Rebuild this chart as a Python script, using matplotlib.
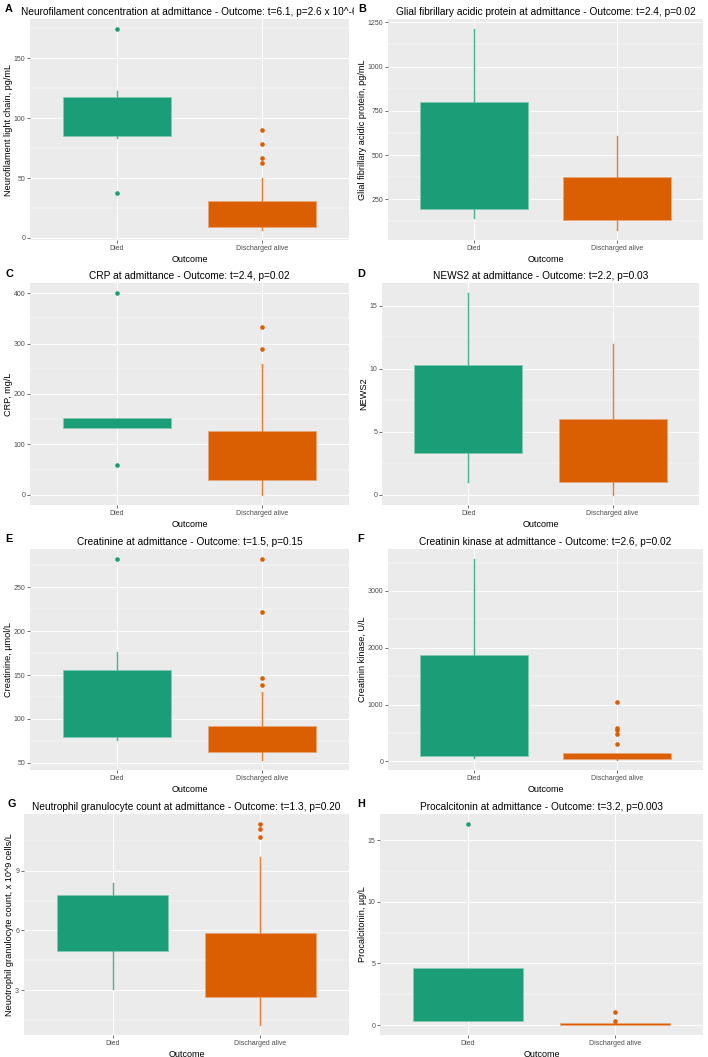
import matplotlib
matplotlib.use("Agg")
import matplotlib.pyplot as plt
import numpy as np
from matplotlib.colors import to_rgb
from matplotlib.transforms import Bbox

plt.rcParams["font.family"] = ["Liberation Sans", "DejaVu Sans"]

W, H = 708, 1057

groups = ["Died", "Discharged alive"]
fills = ["#1B9E77", "#D95F02"]

# per group: [lower whisker, Q1, Q3, upper whisker]
nfl_box = [[83.5, 85.4, 117.7, 122.7], [6.7, 8.8, 30.5, 50.0]]
nfl_out = [[174.5, 37.5], [90.0, 78.3, 66.7, 62.8]]
gfap_box = [[146, 194, 798, 1212], [77, 133, 376, 608]]
gfap_out = [[], []]
crp_box = [[133, 133, 152, 152], [0, 30, 127, 259]]
crp_out = [[400, 59], [333, 289]]
news_box = [[1.0, 3.3, 10.3, 16.0], [0.0, 1.0, 6.0, 12.0]]
news_out = [[], []]
crea_box = [[75.6, 79.2, 155.3, 175.8], [53.4, 62.5, 91.7, 130.3]]
crea_out = [[282], [282, 221.5, 146.2, 138.3]]
ck_box = [[59, 100, 1867, 3563], [23, 35, 147, 147]]
ck_out = [[], [1047, 594, 547, 488, 300]]
neut_box = [[3.08, 4.98, 7.78, 8.37], [1.25, 2.65, 5.88, 9.7]]
neut_out = [[], [11.35, 11.1, 10.72]]
pct_box = [[0.35, 0.35, 4.6, 4.6], [0.02, 0.02, 0.19, 0.4]]
pct_out = [[16.3], [1.08, 0.38]]

panels = [
    ("A", "Neurofilament concentration at admittance - Outcome: t=6.1, p=2.6 x 10^-6",
     "Neurofilament light chain, pg/mL", nfl_box, nfl_out, [0, 50, 100, 150],
     (30, 19, 349, 240), (5, 9)),
    ("B", "Glial fibrillary acidic protein at admittance - Outcome: t=2.4, p=0.02",
     "Glial fibrillary acidic protein, pg/mL", gfap_box, gfap_out, [250, 500, 750, 1000, 1250],
     (388, 19, 703, 240), (358, 9)),
    ("C", "CRP at admittance - Outcome: t=2.4, p=0.02",
     "CRP, mg/L", crp_box, crp_out, [0, 100, 200, 300, 400],
     (30, 283, 349, 505), (5, 274)),
    ("D", "NEWS2 at admittance - Outcome: t=2.2, p=0.03",
     "NEWS2", news_box, news_out, [0, 5, 10, 15],
     (382, 283, 699, 505), (357, 274)),
    ("E", "Creatinine at admittance - Outcome: t=1.5, p=0.15",
     "Creatinine, µmol/L", crea_box, crea_out, [50, 100, 150, 200, 250],
     (30, 549, 349, 770), (5, 539)),
    ("F", "Creatinin kinase at admittance - Outcome: t=2.6, p=0.02",
     "Creatinin kinase, U/L", ck_box, ck_out, [0, 1000, 2000, 3000],
     (388, 549, 703, 770), (357, 539)),
    ("G", "Neutrophil granulocyte count at admittance - Outcome: t=1.3, p=0.20",
     "Neuotrophil granulocyte count, x 10^9 cells/L", neut_box, neut_out, [3, 6, 9],
     (24, 814, 349, 1035), (7, 804)),
    ("H", "Procalcitonin at admittance - Outcome: t=3.2, p=0.003",
     "Procalcitonin, µg/L", pct_box, pct_out, [0, 5, 10, 15],
     (380, 814, 703, 1035), (357, 804)),
]


def lighten(c, amount):
    r = np.array(to_rgb(c))
    return tuple(r + (1 - r) * amount)


def draw_panel(fig, letter, title, ylabel, box, out, yticks, rect, lpos):
    l, t, r, b = rect
    ax = fig.add_axes([l / W, 1 - b / H, (r - l) / W, (b - t) / H])
    ax.set_facecolor("#EBEBEB")
    for s in ax.spines.values():
        s.set_visible(False)

    stats = []
    for g, bx, o in zip(groups, box, out):
        stats.append(dict(label=g, whislo=bx[0], q1=bx[1], med=bx[1],
                          q3=bx[2], whishi=bx[3], fliers=o))
    art = ax.bxp(stats, positions=[1, 2], widths=0.75, patch_artist=True,
                 showcaps=False, medianprops=dict(linewidth=0),
                 flierprops=dict(marker="o", markersize=3.3, markeredgewidth=0))
    for i, c in enumerate(fills):
        art["boxes"][i].set_facecolor(c)
        art["boxes"][i].set_edgecolor(lighten(c, 0.45))
        art["boxes"][i].set_linewidth(0.6)
        for wl in art["whiskers"][2 * i:2 * i + 2]:
            wl.set_color(lighten(c, 0.2))
            wl.set_linewidth(1.0)
        art["fliers"][i].set_markerfacecolor(c)

    step = yticks[1] - yticks[0]
    minor = [yticks[0] - step / 2] + [v + step / 2 for v in yticks]
    ax.set_yticks(yticks)
    ax.set_yticks(minor, minor=True)
    ax.set_xticks([1, 2])
    ax.set_xticklabels(groups)

    vals = [v for bx in box for v in bx] + [v for o in out for v in o]
    lo, hi = min(vals), max(vals)
    pad = 0.05 * (hi - lo)
    ax.set_ylim(lo - pad, hi + pad)
    ax.set_xlim(0.4, 2.6)

    ax.tick_params(axis="both", which="major", length=2, width=0.5,
                   color="#333333", labelcolor="#4D4D4D", labelsize=5.0, pad=1.5)
    ax.tick_params(axis="y", which="minor", length=0)
    ax.grid(which="major", color="white", linewidth=0.7)
    ax.grid(which="minor", axis="y", color="white", linewidth=0.35)
    ax.set_axisbelow(True)

    ax.set_xlabel("Outcome", fontsize=6.5, labelpad=2)
    ax.set_ylabel(ylabel, fontsize=6.6, labelpad=0.5)
    tt = ax.set_title(title, fontsize=7.3, pad=3)
    if letter == "A":
        tt.set_clip_box(Bbox([[0, 0], [354, H]]))
        tt.set_clip_on(True)

    fig.text(lpos[0] / W, 1 - lpos[1] / H, letter, fontsize=7.8,
             fontweight="bold", ha="left", va="center")
    return ax


fig = plt.figure(figsize=(W / 100, H / 100), dpi=100)
fig.patch.set_facecolor("white")
for p in panels:
    draw_panel(fig, *p)

fig.savefig("out.png", dpi=100)
